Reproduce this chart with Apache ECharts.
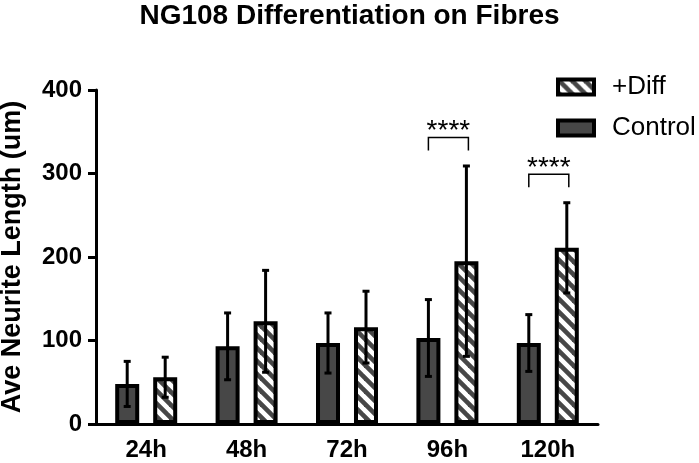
<!DOCTYPE html>
<html>
<head>
<meta charset="utf-8">
<script src="https://cdn.jsdelivr.net/npm/echarts@6/dist/echarts.min.js"></script>
<style>html,body{margin:0;padding:0;background:#fff;}#chart{width:699px;height:463px;}</style>
</head>
<body>
<div id="chart"></div>
<script>
const categories = ['24h', '48h', '72h', '96h', '120h'];
const controlMean = [48, 93, 97, 103, 97];
const controlSD = [27, 40, 36, 46, 34];
const diffMean = [56, 123, 116, 195, 211];
const diffSD = [24, 61, 43, 114, 54];
const sigCategories = ['96h', '120h'];
const sigLevels = [343, 299];
const sigLabels = ['****', '****'];
const yTicks = { min: 0, max: 400, interval: 100 };

const FONT = '"Liberation Sans", Arial, sans-serif';
const DARK = '#474747';

const pc = document.createElement('canvas');
pc.width = 13; pc.height = 13;
const ctx = pc.getContext('2d');
ctx.fillStyle = '#fff';
ctx.fillRect(0, 0, 13, 13);
ctx.strokeStyle = DARK;
ctx.lineWidth = 4.6;
for (let k = -1; k <= 1; k++) {
  ctx.beginPath();
  ctx.moveTo(k * 13 - 3, -3);
  ctx.lineTo(k * 13 + 16, 16);
  ctx.stroke();
}
const hatch = { image: pc, repeat: 'repeat' };

const BAR_OFFSET = 19;

function errData(means, sds) {
  return means.map((m, i) => [i, m - sds[i], m + sds[i]]);
}

function errRender(offset) {
  return function (params, api) {
    const i = api.value(0);
    const lo = api.coord([i, api.value(1)]);
    const hi = api.coord([i, api.value(2)]);
    const x = lo[0] + offset;
    const style = { stroke: '#000', lineWidth: 3 };
    return {
      type: 'group',
      children: [
        { type: 'line', shape: { x1: x, y1: lo[1], x2: x, y2: hi[1] }, style },
        { type: 'line', shape: { x1: x - 3.5, y1: hi[1], x2: x + 3.5, y2: hi[1] }, style },
        { type: 'line', shape: { x1: x - 3.5, y1: lo[1], x2: x + 3.5, y2: lo[1] }, style }
      ]
    };
  };
}

const chart = echarts.init(document.getElementById('chart'));
chart.setOption({
  animation: false,
  backgroundColor: '#fff',
  title: {
    text: 'NG108 Differentiation on Fibres',
    left: 'center',
    top: -3,
    textStyle: { fontFamily: FONT, fontSize: 28, fontWeight: 'bold', color: '#000' }
  },
  legend: {
    data: ['+Diff', 'Control'],
    orient: 'vertical',
    left: 556,
    top: 74,
    padding: 0,
    icon: 'rect',
    itemWidth: 36,
    itemHeight: 15,
    itemGap: 15,
    itemStyle: { borderColor: '#000', borderWidth: 4 },
    textStyle: { fontFamily: FONT, fontSize: 26, color: '#000', lineHeight: 26, padding: [0, 0, 0, 13] }
  },
  grid: { left: 96, right: 101, top: 90, bottom: 39, containLabel: false, outerBoundsMode: 'none' },
  xAxis: {
    type: 'category',
    data: categories,
    axisLine: { lineStyle: { color: '#000', width: 3 } },
    axisTick: { alignWithLabel: true, length: 7, lineStyle: { color: '#000', width: 3 } },
    axisLabel: { fontFamily: FONT, fontSize: 24, fontWeight: 'bold', color: '#000', margin: 14 }
  },
  yAxis: {
    type: 'value',
    min: yTicks.min, max: yTicks.max, interval: yTicks.interval,
    name: 'Ave Neurite Length (um)',
    nameLocation: 'middle',
    nameRotate: 90,
    nameGap: 70,
    nameTextStyle: { fontFamily: FONT, fontSize: 27, fontWeight: 'bold', color: '#000' },
    axisLine: { show: true, lineStyle: { color: '#000', width: 3 } },
    axisTick: { show: true, length: 8, lineStyle: { color: '#000', width: 3 } },
    axisLabel: { fontFamily: FONT, fontSize: 24, fontWeight: 'bold', color: '#000', margin: 14 },
    splitLine: { show: false }
  },
  series: [
    {
      name: 'Control', type: 'bar', data: controlMean,
      barWidth: 24, barGap: '58.3%',
      itemStyle: { color: DARK, borderColor: '#000', borderWidth: 4 }
    },
    {
      name: '+Diff', type: 'bar', data: diffMean,
      barWidth: 24, barGap: '58.3%',
      itemStyle: { color: hatch, borderColor: '#000', borderWidth: 4 }
    },
    {
      name: 'ctrlErr', type: 'custom', data: errData(controlMean, controlSD),
      renderItem: errRender(-BAR_OFFSET), z: 5, silent: true
    },
    {
      name: 'diffErr', type: 'custom', data: errData(diffMean, diffSD),
      renderItem: errRender(BAR_OFFSET), z: 5, silent: true
    },
    {
      name: 'sig', type: 'custom', z: 5, silent: true,
      data: sigCategories.map((c, i) => [categories.indexOf(c), sigLevels[i], i]),
      renderItem: function (params, api) {
        const i = api.value(0);
        const p = api.coord([i, api.value(1)]);
        const x1 = p[0] - BAR_OFFSET, x2 = p[0] + BAR_OFFSET + 2;
        const y = p[1];
        return {
          type: 'group',
          children: [
            { type: 'polyline', shape: { points: [[x1, y + 13], [x1, y], [x2, y], [x2, y + 13]] }, style: { stroke: '#000', lineWidth: 1.5, fill: null } },
            { type: 'text', style: { text: sigLabels[api.value(2)], x: (x1 + x2) / 2, y: y + 8, align: 'center', verticalAlign: 'bottom', font: '28px ' + FONT, fill: '#000' } }
          ]
        };
      }
    }
  ]
});
</script>
</body>
</html>
